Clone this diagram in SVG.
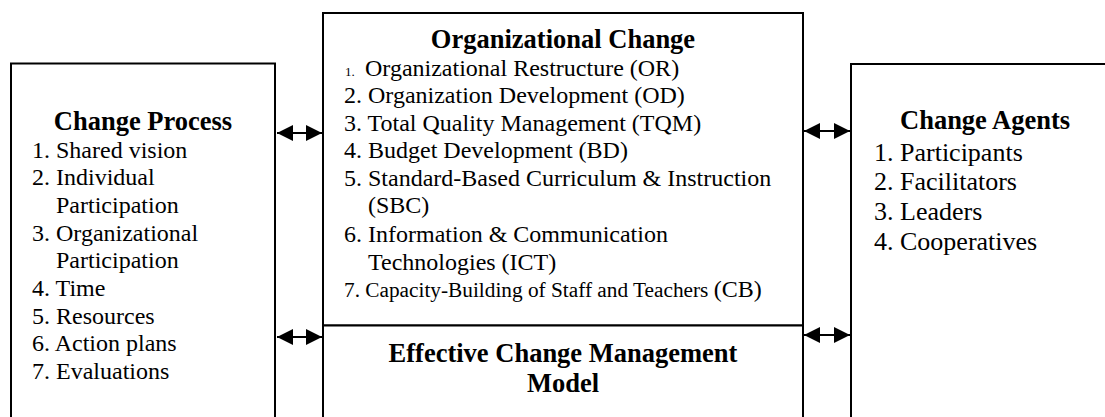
<svg xmlns="http://www.w3.org/2000/svg" width="1105" height="417" viewBox="0 0 1105 417">
<style>
.box{fill:#fff;stroke:#000;stroke-width:2}
.t{font-family:"Liberation Serif","Times New Roman",serif;fill:#000}
.h{font-weight:bold;font-size:26.5px}
.l{font-size:24px}
.r{font-size:26px}
.s{font-size:13px}
.m{font-size:21.3px}
.conn{stroke:#000;stroke-width:2;fill:none;marker-start:url(#ah);marker-end:url(#ah)}
</style>
<defs>
<marker id="ah" markerUnits="userSpaceOnUse" markerWidth="16" markerHeight="16" refX="16" refY="8" orient="auto-start-reverse" viewBox="0 0 16 16">
<path d="M0,0 L16,8 L0,16 z" fill="#000"/>
</marker>
</defs>
<rect width="1105" height="417" fill="#fff"/>

<g id="change-process">
<rect class="box" x="11" y="63.5" width="264" height="380"/>
<text class="t h" x="143" y="130" text-anchor="middle">Change Process</text>
<text class="t l" x="32" y="157.5">1. Shared vision</text>
<text class="t l" x="32" y="185.2">2. Individual</text>
<text class="t l" x="56" y="212.9">Participation</text>
<text class="t l" x="32" y="240.6">3. Organizational</text>
<text class="t l" x="56" y="268.3">Participation</text>
<text class="t l" x="32" y="296">4. Time</text>
<text class="t l" x="32" y="323.7">5. Resources</text>
<text class="t l" x="32" y="351.4">6. Action plans</text>
<text class="t l" x="32" y="379.1">7. Evaluations</text>
</g>

<g id="organizational-change">
<rect class="box" x="323" y="13" width="480" height="312.5"/>
<text class="t h" x="563" y="48.3" text-anchor="middle">Organizational Change</text>
<text class="t l" x="345" y="76"><tspan class="s">1.</tspan><tspan x="365">Organizational Restructure (OR)</tspan></text>
<text class="t l" x="344" y="103.3">2. Organization Development (OD)</text>
<text class="t l" x="344" y="130.7">3. Total Quality Management (TQM)</text>
<text class="t l" x="344" y="158.3">4. Budget Development (BD)</text>
<text class="t l" x="344" y="185.7">5. Standard-Based Curriculum &amp; Instruction</text>
<text class="t l" x="368" y="213.3">(SBC)</text>
<text class="t l" x="344" y="242.3">6. Information &amp; Communication</text>
<text class="t l" x="368" y="270">Technologies (ICT)</text>
<text class="t l" x="344" y="297.3"><tspan class="m">7. Capacity-Building of Staff and Teachers </tspan>(CB)</text>
</g>

<g id="effective-model">
<rect class="box" x="323" y="325.5" width="480" height="120"/>
<text class="t h" x="563" y="361.7" text-anchor="middle">Effective Change Management</text>
<text class="t h" x="563" y="391.7" text-anchor="middle">Model</text>
</g>

<g id="change-agents">
<rect class="box" x="851" y="64" width="280" height="380"/>
<text class="t h" x="900" y="129">Change Agents</text>
<text class="t r" x="874" y="160.5">1. Participants</text>
<text class="t r" x="874" y="190.2">2. Facilitators</text>
<text class="t r" x="874" y="219.9">3. Leaders</text>
<text class="t r" x="874" y="249.6">4. Cooperatives</text>
</g>

<g id="connectors">
<line class="conn" x1="277" y1="133" x2="322" y2="133"/>
<line class="conn" x1="277" y1="337" x2="322" y2="337"/>
<line class="conn" x1="804" y1="131" x2="850" y2="131"/>
<line class="conn" x1="804" y1="335" x2="850" y2="335"/>
</g>
</svg>
